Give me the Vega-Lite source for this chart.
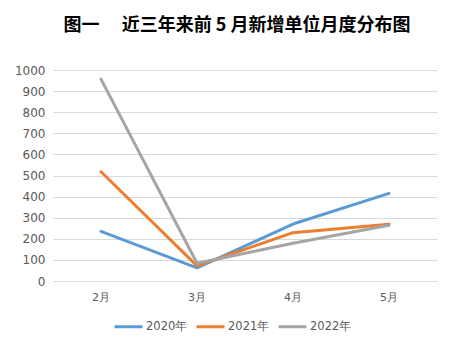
{
  "$schema": "https://vega.github.io/schema/vega-lite/v6.json",
  "autosize": "none",
  "width": 384,
  "height": 211,
  "padding": {"left": 53, "top": 70, "right": 24, "bottom": 70},
  "background": "white",
  "title": {
    "text": "图一　 近三年来前 5 月新增单位月度分布图",
    "font": "Noto Sans CJK SC",
    "fontSize": 18,
    "fontWeight": "bold",
    "color": "#000000",
    "anchor": "middle",
    "offset": 29,
    "dx": -8
  },
  "data": {
    "values": [
      {"month": "2月", "year": "2020年", "value": 235},
      {"month": "3月", "year": "2020年", "value": 62},
      {"month": "4月", "year": "2020年", "value": 270},
      {"month": "5月", "year": "2020年", "value": 415},
      {"month": "2月", "year": "2021年", "value": 518},
      {"month": "3月", "year": "2021年", "value": 72},
      {"month": "4月", "year": "2021年", "value": 229},
      {"month": "5月", "year": "2021年", "value": 269},
      {"month": "2月", "year": "2022年", "value": 957},
      {"month": "3月", "year": "2022年", "value": 84},
      {"month": "4月", "year": "2022年", "value": 179},
      {"month": "5月", "year": "2022年", "value": 264}
    ]
  },
  "mark": {"type": "line", "strokeWidth": 3, "strokeCap": "round", "strokeJoin": "round"},
  "encoding": {
    "x": {
      "field": "month",
      "type": "ordinal",
      "sort": ["2月", "3月", "4月", "5月"],
      "scale": {"type": "band", "paddingInner": 0, "paddingOuter": 0},
      "axis": {
        "title": null,
        "labelAngle": 0,
        "ticks": false,
        "domainColor": "#d9d9d9",
        "labelColor": "#595959",
        "labelFont": "DejaVu Sans",
        "labelFontSize": 11,
        "labelPadding": 10
      }
    },
    "y": {
      "field": "value",
      "type": "quantitative",
      "scale": {"domain": [0, 1000]},
      "axis": {
        "title": null,
        "values": [0, 100, 200, 300, 400, 500, 600, 700, 800, 900, 1000],
        "format": "d",
        "labelOverlap": false,
        "ticks": false,
        "domain": false,
        "gridColor": "#d9d9d9",
        "labelColor": "#595959",
        "labelFont": "DejaVu Sans",
        "labelFontSize": 12,
        "labelPadding": 8
      }
    },
    "color": {
      "field": "year",
      "type": "nominal",
      "scale": {"domain": ["2020年", "2021年", "2022年"], "range": ["#5B9BD5", "#ED7D31", "#A5A5A5"]},
      "legend": {
        "title": null,
        "orient": "none",
        "legendX": 60,
        "legendY": 241,
        "direction": "horizontal",
        "symbolType": "stroke",
        "symbolStrokeWidth": 3,
        "symbolSize": 784,
        "labelColor": "#595959",
        "labelFont": "DejaVu Sans",
        "labelFontSize": 11.5,
        "labelOffset": 2,
        "columnPadding": 2
      }
    }
  },
  "config": {"view": {"stroke": null}}
}
